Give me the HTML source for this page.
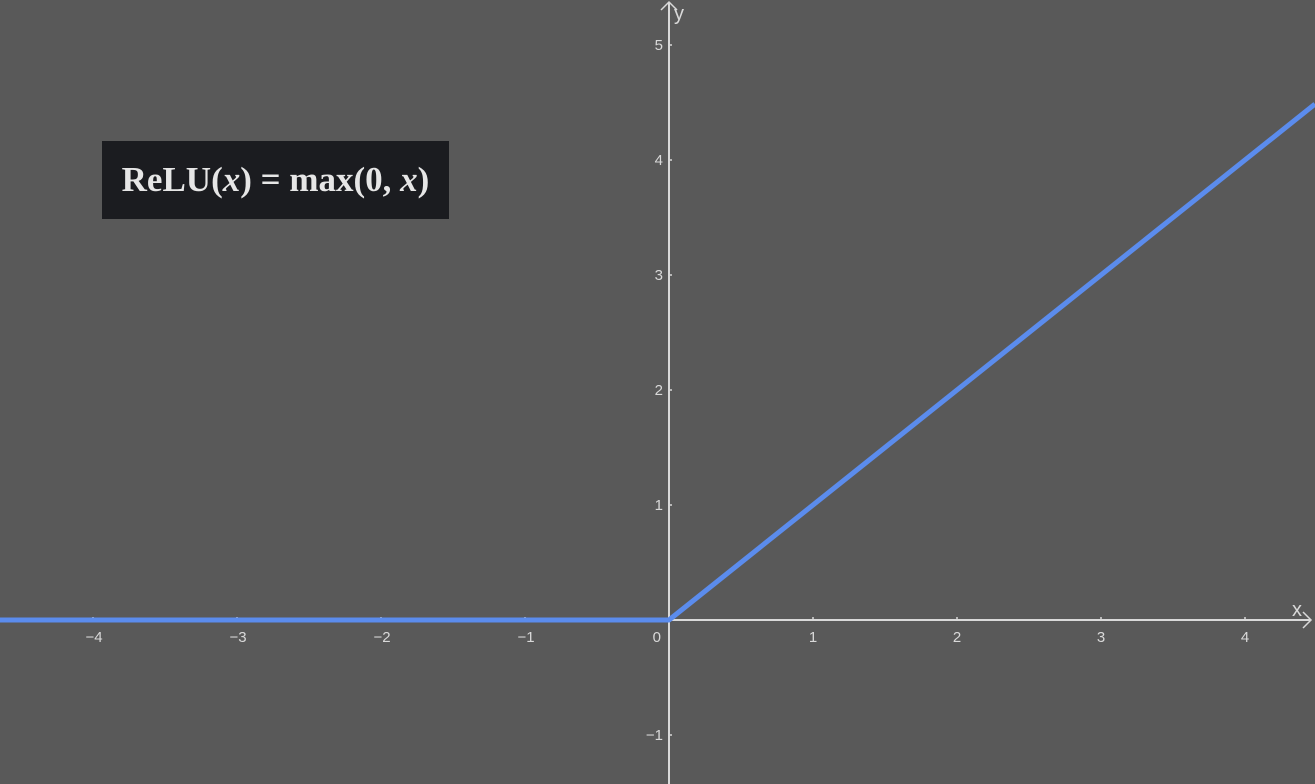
<!DOCTYPE html>
<html><head><meta charset="utf-8"><style>
html,body{margin:0;padding:0;background:#595959;width:1315px;height:784px;overflow:hidden}
svg{display:block}
#formula{position:absolute;left:102px;top:141px;width:347px;height:78px;background:#1b1c20;color:#e6e6e6;font-family:"Liberation Serif",serif;font-size:35px;font-weight:bold;line-height:78px;text-align:center;white-space:nowrap}
#formula i{font-style:italic}
</style></head><body>
<svg id="chart" width="1315" height="784" xmlns="http://www.w3.org/2000/svg"></svg>
<div id="formula">ReLU(<i>x</i>) = max(0, <i>x</i>)</div>
<script>
const xTicks=[-4,-3,-2,-1,1,2,3,4];
const yTicks=[-1,1,2,3,4,5];
const curveX=[-4.646,0,4.486];
const curveY=[0,0,4.486];
const ox=669,oy=620,ux=144,uy=115;
const sx=v=>ox+v*ux, sy=v=>oy-v*uy;
const svg=document.getElementById('chart');
const NS='http://www.w3.org/2000/svg';
function mk(t,a){const e=document.createElementNS(NS,t);for(const k in a)e.setAttribute(k,a[k]);svg.appendChild(e);return e;}
const ax='#d9d9d9';
const xa=mk('line',{x1:0,y1:oy,x2:1311,y2:oy,stroke:ax,'stroke-width':2});


const ya=mk('line',{x1:ox,y1:784,x2:ox,y2:2,stroke:ax,'stroke-width':2});


mk('polyline',{points:'1303,612 1311,620 1303,628',fill:'none',stroke:ax,'stroke-width':1.5});
mk('polyline',{points:'661,10 669,2 677,10',fill:'none',stroke:ax,'stroke-width':1.5});
const xl=mk('text',{x:1292,y:616,fill:ax,'font-family':'Liberation Sans, sans-serif','font-size':20});xl.textContent='x';


const yl=mk('text',{x:674,y:20,fill:ax,'font-family':'Liberation Sans, sans-serif','font-size':20});yl.textContent='y';


xTicks.forEach(v=>{
 mk('line',{x1:sx(v),y1:oy-3,x2:sx(v),y2:oy+1,stroke:ax,'stroke-width':1.5});
 const t=mk('text',{x:sx(v)+(v<0?1:0),y:642,fill:ax,'font-family':'Liberation Sans, sans-serif','font-size':15,'text-anchor':'middle'});
 t.textContent=v<0?'\u2212'+(-v):String(v);
 
 
});
yTicks.forEach(v=>{
 mk('line',{x1:ox-1,y1:sy(v),x2:ox+3,y2:sy(v),stroke:ax,'stroke-width':1.5});
 const t=mk('text',{x:ox-6,y:sy(v)+5,fill:ax,'font-family':'Liberation Sans, sans-serif','font-size':15,'text-anchor':'end'});
 t.textContent=v<0?'\u2212'+(-v):String(v);
 
 
});
const o=mk('text',{x:ox-8,y:642,fill:ax,'font-family':'Liberation Sans, sans-serif','font-size':15,'text-anchor':'end'});o.textContent='0';


const pl=mk('polyline',{points:curveX.map((x,i)=>sx(x)+','+sy(curveY[i])).join(' '),fill:'none',stroke:'#5b8ced','stroke-width':5,'stroke-linejoin':'round'});


</script>
</body></html>
